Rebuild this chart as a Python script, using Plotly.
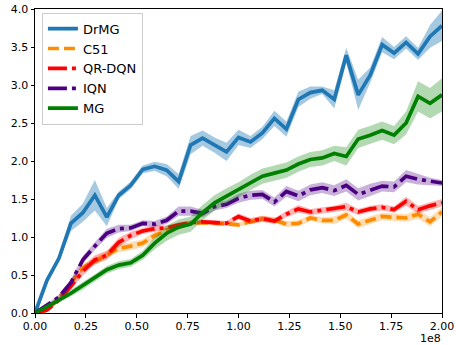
import numpy as np
import plotly.graph_objects as go

# ---- data ----
steps = np.linspace(0, 2e8, 35)

drmg = [0.0, 0.43, 0.72, 1.18, 1.32, 1.55, 1.26, 1.55, 1.68, 1.89, 1.93, 1.88, 1.73, 2.21, 2.30,
        2.21, 2.12, 2.31, 2.25, 2.37, 2.56, 2.42, 2.81, 2.90, 2.93, 2.81, 3.39, 2.87, 3.13, 3.53,
        3.42, 3.56, 3.41, 3.64, 3.78]
drmg_sd = [0.0, 0.03, 0.04, 0.10, 0.12, 0.20, 0.12, 0.05, 0.05, 0.05, 0.06, 0.08, 0.10, 0.12, 0.10,
           0.10, 0.12, 0.10, 0.08, 0.08, 0.10, 0.10, 0.10, 0.08, 0.05, 0.12, 0.10, 0.20, 0.10, 0.10,
           0.08, 0.08, 0.08, 0.15, 0.20]

c51 = [0.0, 0.03, 0.20, 0.40, 0.60, 0.68, 0.77, 0.85, 0.88, 0.92, 1.02, 1.09, 1.14, 1.18, 1.19,
       1.18, 1.18, 1.16, 1.20, 1.24, 1.22, 1.17, 1.18, 1.25, 1.22, 1.22, 1.29, 1.17, 1.22, 1.27,
       1.26, 1.25, 1.30, 1.20, 1.33]
c51_sd = [0.0, 0.02, 0.03, 0.04, 0.05, 0.05, 0.05, 0.05, 0.05, 0.05, 0.05, 0.04, 0.04, 0.03, 0.03,
          0.03, 0.03, 0.03, 0.03, 0.04, 0.04, 0.04, 0.04, 0.04, 0.04, 0.05, 0.05, 0.05, 0.05, 0.05,
          0.05, 0.05, 0.06, 0.06, 0.06]

qrdqn = [0.0, 0.04, 0.17, 0.35, 0.55, 0.70, 0.76, 0.93, 1.02, 1.08, 1.11, 1.12, 1.16, 1.19, 1.20,
         1.19, 1.18, 1.27, 1.21, 1.24, 1.21, 1.30, 1.37, 1.33, 1.35, 1.37, 1.40, 1.33, 1.37, 1.39,
         1.36, 1.47, 1.36, 1.41, 1.45]
qrdqn_sd = [0.0, 0.02, 0.03, 0.04, 0.06, 0.06, 0.06, 0.06, 0.05, 0.04, 0.04, 0.03, 0.03, 0.03, 0.03,
            0.03, 0.03, 0.04, 0.04, 0.04, 0.04, 0.04, 0.05, 0.04, 0.04, 0.04, 0.05, 0.04, 0.04, 0.04,
            0.04, 0.06, 0.05, 0.05, 0.05]

iqn = [0.0, 0.10, 0.21, 0.40, 0.70, 0.88, 1.05, 1.11, 1.12, 1.18, 1.17, 1.22, 1.34, 1.34, 1.31,
       1.40, 1.43, 1.51, 1.55, 1.56, 1.46, 1.60, 1.54, 1.62, 1.65, 1.61, 1.68, 1.56, 1.62, 1.67,
       1.66, 1.80, 1.76, 1.73, 1.71]
iqn_sd = [0.0, 0.02, 0.03, 0.04, 0.05, 0.05, 0.06, 0.05, 0.04, 0.04, 0.04, 0.05, 0.06, 0.06, 0.05,
          0.05, 0.05, 0.06, 0.06, 0.06, 0.06, 0.07, 0.07, 0.07, 0.07, 0.07, 0.08, 0.08, 0.08, 0.07,
          0.07, 0.08, 0.07, 0.05, 0.04]

mg = [0.0, 0.08, 0.17, 0.26, 0.36, 0.46, 0.57, 0.63, 0.66, 0.76, 0.92, 1.05, 1.13, 1.17, 1.32,
      1.45, 1.54, 1.62, 1.72, 1.80, 1.84, 1.88, 1.96, 2.02, 2.04, 2.10, 2.06, 2.29, 2.34, 2.40,
      2.34, 2.50, 2.85, 2.76, 2.87]
mg_sd = [0.0, 0.02, 0.03, 0.04, 0.05, 0.05, 0.05, 0.05, 0.05, 0.06, 0.08, 0.10, 0.10, 0.10, 0.10,
         0.10, 0.10, 0.10, 0.10, 0.10, 0.10, 0.10, 0.10, 0.10, 0.10, 0.10, 0.12, 0.12, 0.12, 0.12,
         0.12, 0.15, 0.20, 0.20, 0.22]

names = ["DrMG", "C51", "QR-DQN", "IQN", "MG"]
x_tickvals = [0, 0.25e8, 0.5e8, 0.75e8, 1.0e8, 1.25e8, 1.5e8, 1.75e8, 2.0e8]
x_ticktext = ["0.00", "0.25", "0.50", "0.75", "1.00", "1.25", "1.50", "1.75", "2.00"]
y_tickvals = [0, 0.5, 1.0, 1.5, 2.0, 2.5, 3.0, 3.5, 4.0]
y_ticktext = ["0.0", "0.5", "1.0", "1.5", "2.0", "2.5", "3.0", "3.5", "4.0"]

# ---- styles ----
series = [
    (names[0], drmg, drmg_sd, "#1f77b4", "rgba(31,119,180,0.4)", "solid"),
    (names[1], c51, c51_sd, "#ff8c00", "rgba(255,140,0,0.3)", "11px,5px"),
    (names[2], qrdqn, qrdqn_sd, "#ff0000", "rgba(255,0,0,0.3)", "19px,5px,4px,5px"),
    (names[3], iqn, iqn_sd, "#4b0082", "rgba(75,0,130,0.3)", "19px,5px,4px,5px"),
    (names[4], mg, mg_sd, "#008000", "rgba(0,128,0,0.3)", "solid"),
]

fig = go.Figure()
xs = list(steps)
for name, m, sd, col, fcol, dash in series:
    m = np.array(m)
    sd = np.array(sd)
    up = list(m + sd)
    lo = list(m - sd)
    fig.add_trace(go.Scatter(x=xs + xs[::-1], y=up + lo[::-1], fill="toself",
                             fillcolor=fcol, line=dict(width=0), mode="lines",
                             hoverinfo="skip", showlegend=False))
    fig.add_trace(go.Scatter(x=xs, y=list(m), mode="lines", name=name,
                             line=dict(color=col, width=3.7, dash=dash)))

axis_common = dict(showline=True, linecolor="black", linewidth=1, mirror=True,
                   ticks="outside", ticklen=3.5, tickwidth=1, tickcolor="black",
                   showgrid=False, zeroline=False, automargin=False,
                   tickfont=dict(family="DejaVu Sans", size=11, color="black"))

fig.update_layout(
    width=456, height=345,
    margin=dict(l=35, r=14, t=9, b=32),
    paper_bgcolor="white", plot_bgcolor="white",
    font=dict(family="DejaVu Sans", color="black"),
    xaxis=dict(range=[0, 2e8], tickvals=x_tickvals, ticktext=x_ticktext,
               ticklabelstandoff=-1, **axis_common),
    yaxis=dict(range=[0, 4], tickvals=y_tickvals, ticktext=y_ticktext, **axis_common),
    legend=dict(x=0.017, y=0.988, xanchor="left", yanchor="top",
                bgcolor="rgba(255,255,255,0.8)", bordercolor="#cccccc", borderwidth=1,
                font=dict(family="DejaVu Sans", size=13, color="black"),
                itemwidth=30, tracegroupgap=0, entrywidth=75, entrywidthmode="pixels"),
    annotations=[dict(text="1e8", xref="paper", yref="paper", x=1.0, y=-0.107,
                      xanchor="right", yanchor="bottom", showarrow=False, borderpad=0,
                      font=dict(family="DejaVu Sans", size=11, color="black"))],
)

fig.write_html("out.html", config={"displayModeBar": False},
               post_script="document.body.style.margin='0';document.body.style.padding='0';")
